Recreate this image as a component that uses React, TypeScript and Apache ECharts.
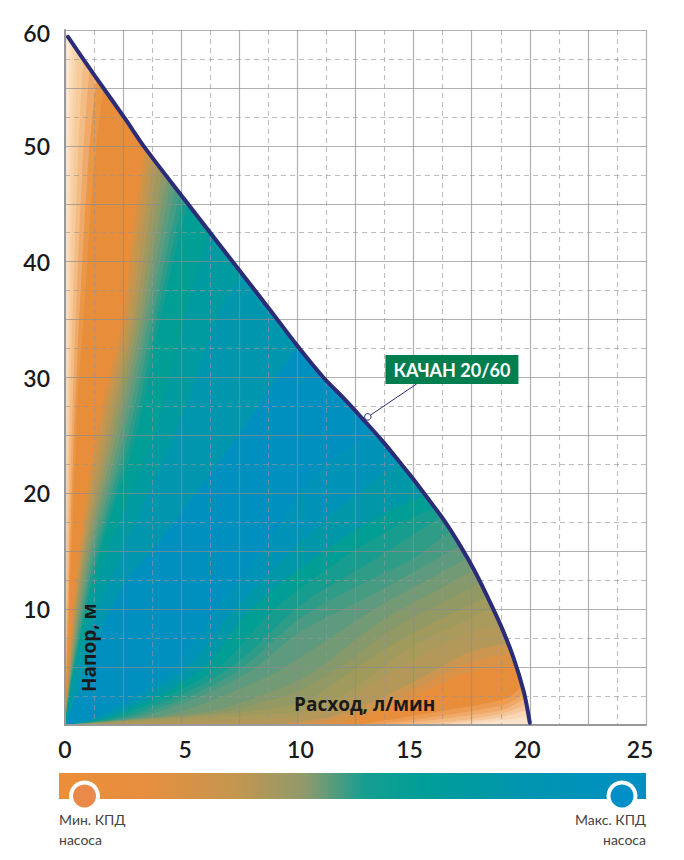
import React, { useEffect, useRef } from "react";
import * as echarts from "echarts";

const xTicks = [0, 5, 10, 15, 20, 25];
const yTicks = [10, 20, 30, 40, 50, 60];
const FONT = "Lato, 'Noto Sans', sans-serif";
const NAME_FONT = "'Open Sans', 'Noto Sans', sans-serif";

// Pump curve "КАЧАН 20/60": [flow l/min, head m]
const pumpCurve = [
  [0.13, 59.4], [1.3, 56], [2.6, 52.3], [3.45, 49.8], [5.17, 45.3], [6.4, 42.1], [7.6, 39], [8.8, 35.9],
  [9.99, 32.76], [11.12, 30], [12, 28.2], [12.79, 26.47], [13.71, 24.4], [14.57, 22.27], [15, 21.2],
  [15.6, 19.6], [16.3, 17.7], [17.03, 15.4], [17.6, 13.4], [18.18, 11.06], [18.75, 8.6], [19.3, 5.8],
  [19.75, 2.8], [20, 0.2],
];
const calloutPoint = [13.03, 26.6];
const calloutEnd = [15.1, 29.4];

// Iso-efficiency lines, left to right: each runs from the axis to the pump curve
const isoLines = [
  [[0, 0], [0, 60]],
  [[0, 0], [0.04, 26], [0.1, 47], [0.2, 59.2]],
  [[0, 0], [0.07, 26], [0.18, 47], [0.3, 58.9]],
  [[0, 0], [0.1, 26], [0.26, 47], [0.42, 58.5]],
  [[0, 0], [0.14, 26], [0.36, 47], [0.55, 58.1]],
  [[0, 0], [0.2, 26], [0.52, 47], [0.78, 57.5]],
  [[0, 0], [0.3, 26], [0.72, 47], [1.05, 56.7]],
  [[0, 0], [0.4, 26], [0.95, 47], [1.35, 55.8]],
  [[0, 0], [0.5, 26], [0.8, 35], [1.2, 47], [1.65, 54.9]],
  [[0, 0], [0.15, 5], [0.6, 14.8], [1.4, 25.4], [2.5, 35], [2.9, 42], [3.45, 49.8]],
  [[0, 0], [0.17, 5], [0.68, 14.8], [1.57, 25.4], [2.66, 35], [3.1, 42], [3.63, 49.3]],
  [[0, 0], [0.2, 5], [0.75, 14.8], [1.74, 25.4], [2.82, 35], [3.3, 42], [3.8, 48.9]],
  [[0, 0], [0.22, 5], [0.82, 14.8], [1.91, 25.4], [2.98, 35], [3.5, 42], [4, 48.4]],
  [[0, 0], [0.25, 5], [0.9, 14.8], [2.08, 25.4], [3.14, 35], [3.7, 42], [4.2, 47.9]],
  [[0, 0], [0.28, 5], [1, 14.8], [2.25, 25.4], [3.3, 35], [3.9, 42], [4.4, 47.4]],
  [[0, 0], [0.3, 5], [1.1, 14.8], [2.42, 25.4], [3.46, 35], [4.1, 42], [4.55, 47]],
  [[0, 0], [0.32, 5], [1.2, 14.8], [2.59, 25.4], [3.62, 35], [4.3, 42], [4.75, 46.5]],
  [[0, 0], [0.35, 5], [1.3, 14.8], [2.76, 25.4], [3.78, 35], [4.5, 42], [4.95, 45.9]],
  [[0, 0], [0.38, 5], [1.4, 14.8], [2.93, 25.4], [3.94, 35], [4.7, 42], [5.1, 45.5]],
  [[0, 0], [0.4, 5], [1.5, 14.8], [3.1, 25.4], [4.1, 35], [4.9, 42], [5.3, 45]],
  [[0, 0], [0.45, 5], [1.8, 14.8], [3.9, 25.6], [5.1, 35], [6.2, 42.6]],
  [[0, 0], [0.5, 4], [1.6, 11], [5, 26.6], [6.5, 35], [7.6, 39]],
  [[0, 0], [0.6, 3], [2.2, 11], [4.5, 17], [7.6, 25.4], [9.99, 32.76]],
  [[0, 0], [1.6, 1], [4.5, 4.7], [6.5, 10], [8.8, 16], [10.1, 20], [11.4, 22.8], [13.3, 25.2]],
  [[0, 0], [1.9, 1], [5.1, 4.7], [7.3, 10], [10, 15.5], [12.6, 20], [14.4, 22.7]],
  [[0, 0], [2.3, 1], [5.8, 4.7], [8, 10], [11, 14.8], [13.5, 18], [15.5, 19.9]],
  [[0, 0], [2.6, 1], [6.4, 4.7], [9, 10], [11.8, 14.2], [14, 16.9], [15.9, 18.8]],
  [[0, 0], [3, 1], [7, 4.8], [10.1, 10.3], [12.6, 13.4], [14.4, 15.7], [16.2, 18]],
  [[0, 0], [3.4, 1], [7.3, 4.5], [10.1, 9.2], [12.8, 12.2], [15, 14.4], [16.6, 16.8]],
  [[0, 0], [3.8, 1], [7.6, 4.2], [10.1, 8], [13, 11], [15, 13.2], [17, 15.5]],
  [[0, 0], [4.6, 1], [8.5, 4], [10.1, 5.8], [13.3, 10], [15.5, 12.4], [17.3, 14.4]],
  [[0, 0], [5.5, 1], [7.5, 1.9], [10.1, 3.9], [11.6, 5.9], [13.7, 9.1], [15.9, 11.5], [17.6, 13.4]],
  [[0, 0], [6.2, 1], [8.5, 2], [10.1, 3], [12.2, 5.5], [14, 8.2], [16.2, 10.5], [17.9, 12.3]],
  [[0, 0], [7, 1], [10.1, 1.9], [11, 2.8], [12.6, 5], [14.4, 7.3], [16.6, 9.6], [18.18, 11.06]],
  [[0, 0], [7.7, 0.8], [10.1, 1.2], [12, 2.7], [13, 4], [14.8, 6.6], [17, 8.8], [18.4, 10.1]],
  [[0, 0], [8.5, 0.5], [10.1, 0.9], [11.6, 1.6], [13, 3.3], [15.2, 5.9], [17.3, 7.9], [18.75, 8.6]],
  [[9, 0], [10.8, 0.5], [11.6, 0.8], [13.7, 2.4], [15.9, 4.7], [17.3, 6.2], [19.05, 7.1]],
  [[10.2, 0], [12, 0.7], [13.7, 1.8], [15.9, 4], [17.3, 5.3], [19.2, 6.3]],
  [[11.5, 0], [12, 0.2], [13.7, 1.3], [15.9, 3.3], [17.3, 4.5], [19.4, 5.2]],
  [[12.5, 0], [15.9, 1.1], [18.8, 2.2], [19.65, 3.4]],
  [[13, 0], [15.9, 0.7], [18.8, 1.7], [19.75, 2.8]],
  [[14, 0], [16.5, 0.6], [18.8, 1.3], [19.8, 2.3]],
  [[15, 0], [17, 0.4], [18.8, 1], [19.85, 1.8]],
  [[16, 0], [17.8, 0.4], [18.8, 0.7], [19.9, 1.3]],
  [[17, 0], [18.8, 0.4], [19.95, 0.7]],
];
const bandColors = [
  "#fde8d2", "#fbdfc3", "#fad8b4", "#f8d1a7", "#f7ca9a", "#f3bc85", "#efaa6b", "#ea9748", "#e88d3a",
  "#d29349", "#c2964f", "#b2975a", "#a0985f", "#8c9a6b", "#769a74", "#5f9b7e", "#479c84", "#2f9c8a", "#179d8f", "#009e94",
  "#009ba0", "#0096ae", "#0090c0", "#0093b8", "#0098a8", "#009e94", "#179d8f", "#2f9c88", "#479b82", "#5e9a7e",
  "#729a74", "#86996a", "#939963", "#a09a5d", "#aa9a5b", "#b4985a", "#cc9650", "#da9246", "#e88d3a",
  "#ec9b52", "#f0a968", "#f3b981", "#f6c79a", "#f9d6b4", "#fbe3cb",
];

const legendStops = [
  [0, "#ec8e39"], [0.15, "#e68f3e"], [0.3, "#c4964f"], [0.42, "#8f9a6c"],
  [0.52, "#169e90"], [0.62, "#009e98"], [0.8, "#0095b0"], [1, "#008fc4"],
];

const bandData = isoLines.map((l) => l[l.length - 1]);

// A band's outline: a smooth run along its iso-line, then straight along the curve and the axis
echarts.graphic.registerShape(
  "isoBand",
  echarts.graphic.extendShape({
    shape: { line: [] as number[][], rest: [] as number[][] },
    buildPath(ctx: any, shape: any) {
      const p = shape.line;
      ctx.moveTo(p[0][0], p[0][1]);
      for (let i = 0; i < p.length - 1; i++) {
        const a = p[Math.max(i - 1, 0)], b = p[i], c = p[i + 1], d = p[Math.min(i + 2, p.length - 1)];
        ctx.bezierCurveTo(
          b[0] + (c[0] - a[0]) / 6, b[1] + (c[1] - a[1]) / 6,
          c[0] - (d[0] - b[0]) / 6, c[1] - (d[1] - b[1]) / 6,
          c[0], c[1]
        );
      }
      shape.rest.forEach((q: number[]) => ctx.lineTo(q[0], q[1]));
      ctx.closePath();
    },
  })
);

function renderBand(params: any, api: any) {
  const i = params.dataIndex;
  const line = isoLines[i];
  const endQ = line[line.length - 1][0];
  const rest = [...pumpCurve.filter((p) => p[0] > endQ), [20, 0]];
  return {
    type: "isoBand",
    shape: { line: line.map((p) => api.coord(p)), rest: rest.map((p) => api.coord(p)) },
    style: { fill: bandColors[i] },
    silent: true,
  };
}

const solid = { color: "rgba(140,140,140,0.68)", width: 1.2 };
const dashed = { color: "rgba(150,150,150,0.62)", width: 1.1, type: [5, 4] as any };

const digit = { fontFamily: FONT, fontSize: 23, fontWeight: 600, color: "#1a1a1a" };
const xRich: any = {
  a0: digit,
  a5: { ...digit, padding: [0, 0, 0, 8] },
  a10: { ...digit, padding: [0, 0, 0, 6] },
  a15: { ...digit, padding: [0, 8, 0, 0] },
  a20: { ...digit, padding: [0, 5, 0, 0] },
  a25: { ...digit, padding: [0, 12, 0, 0] },
};

export default function App() {
  const ref = useRef<HTMLDivElement>(null);
  useEffect(() => {
    const chart = echarts.init(ref.current!, null, { renderer: "svg" });
    chart.setOption({
      animation: false,
      backgroundColor: "#fff",
      grid: { left: 65, right: 38, top: 30, bottom: 135, show: false },
      xAxis: {
        type: "value", min: 0, max: 25, interval: 2.5, z: 5,
        axisLine: { lineStyle: { color: "#999", width: 2 } },
        axisTick: { show: false },
        axisLabel: {
          margin: 12, ...digit, rich: xRich, hideOverlap: false,
          formatter: (v: number) => (xTicks.includes(v) ? `{a${v}|${v}}` : ""),
        },
        splitLine: { show: true, lineStyle: solid },
        minorTick: { show: false, splitNumber: 2 },
        minorSplitLine: { show: true, lineStyle: dashed },
      },
      yAxis: {
        type: "value", min: 0, max: 60, interval: 5, z: 5,
        axisLine: { show: true, lineStyle: { color: "#999", width: 2 } },
        axisTick: { show: false },
        axisLabel: {
          margin: 15, ...digit, rich: { top: { ...digit, padding: [6, 0, 0, 0] }, n: digit },
          formatter: (v: number) => (yTicks.includes(v) ? (v === 60 ? `{top|${v}}` : `{n|${v}}`) : ""),
        },
        splitLine: { show: true, lineStyle: solid },
        minorTick: { show: false, splitNumber: 2 },
        minorSplitLine: { show: true, lineStyle: dashed },
      },
      series: [
        { type: "custom", z: 1, clip: true, silent: true, data: bandData, encode: { x: 0, y: 1 }, renderItem: renderBand },
        {
          type: "line", z: 10, data: pumpCurve, smooth: 0.3, showSymbol: false, silent: true,
          lineStyle: { color: "#2a2c78", width: 4, cap: "round" },
        },
        {
          type: "line", z: 11, data: [calloutPoint, calloutEnd], showSymbol: false, silent: true,
          lineStyle: { color: "#2a2c78", width: 1 },
        },
        {
          type: "scatter", z: 12, data: [calloutPoint], symbolSize: 6.5, silent: true,
          itemStyle: { color: "#fff", borderColor: "#2a2c78", borderWidth: 1, opacity: 1 },
        },
        {
          type: "scatter", z: 12, data: [calloutEnd], symbolSize: 1, silent: true,
          itemStyle: { color: "#2a2c78", opacity: 1 },
          label: {
            show: true, position: "top", distance: 0, offset: [36, 0],
            formatter: "КАЧАН 20/60", fontFamily: FONT, fontSize: 18, fontWeight: 700,
            color: "#fff", backgroundColor: "#007e4f", padding: [6, 8, 5, 8],
          },
        },
      ],
      graphic: [
        { type: "text", z: 20, x: 294, y: 704, style: { text: "Расход, л/мин", font: `700 19px ${NAME_FONT}`, fill: "#1a1a1a", textVerticalAlign: "middle" } },
        { type: "text", z: 20, x: 89, y: 692, rotation: Math.PI / 2, style: { text: "Напор, м", font: `700 19px ${NAME_FONT}`, fill: "#1a1a1a", textVerticalAlign: "middle" } },
        {
          type: "rect", z: 20, shape: { x: 59, y: 773, width: 587, height: 26 },
          style: {
            fill: new echarts.graphic.LinearGradient(0, 0, 1, 0,
              legendStops.map(([offset, color]) => ({ offset: offset as number, color: color as string }))),
          },
        },
        { type: "circle", z: 21, shape: { cx: 84.5, cy: 796, r: 15.5 }, style: { fill: "#fff" } },
        { type: "circle", z: 22, shape: { cx: 84.5, cy: 796, r: 11.5 }, style: { fill: "#e98a4a" } },
        { type: "circle", z: 21, shape: { cx: 622, cy: 796, r: 15.5 }, style: { fill: "#fff" } },
        { type: "circle", z: 22, shape: { cx: 622, cy: 796, r: 11.5 }, style: { fill: "#008fc6" } },
        { type: "text", z: 20, x: 59, y: 819, style: { text: "Мин. КПД", font: `400 14px ${FONT}`, fill: "#444", textVerticalAlign: "middle" } },
        { type: "text", z: 20, x: 59, y: 839, style: { text: "насоса", font: `400 14px ${FONT}`, fill: "#444", textVerticalAlign: "middle" } },
        { type: "text", z: 20, x: 646, y: 819, style: { text: "Макс. КПД", font: `400 14px ${FONT}`, fill: "#444", textAlign: "right", textVerticalAlign: "middle" } },
        { type: "text", z: 20, x: 646, y: 839, style: { text: "насоса", font: `400 14px ${FONT}`, fill: "#444", textAlign: "right", textVerticalAlign: "middle" } },
      ],
    });
    return () => chart.dispose();
  }, []);
  return <div ref={ref} style={{ position: "fixed", left: 0, top: 0, width: 684, height: 860 }} />;
}
